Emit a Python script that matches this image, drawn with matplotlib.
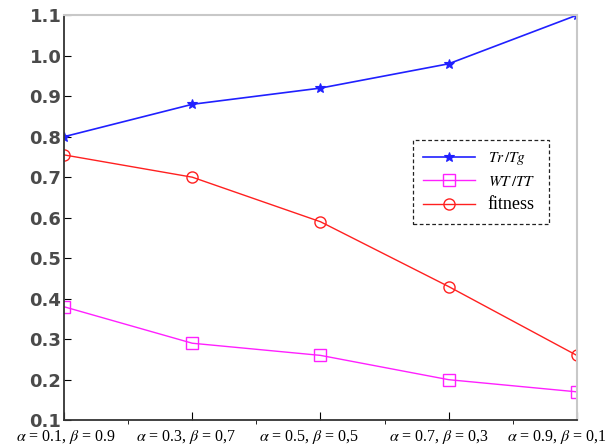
import matplotlib
matplotlib.use("Agg")
import matplotlib.pyplot as plt
from matplotlib.ticker import MultipleLocator
from matplotlib.transforms import ScaledTranslation

plt.rcParams['mathtext.fontset'] = 'stix'

x = [1, 2, 3, 4, 5]
xlabels = [r'$\alpha$ = 0.1, $\beta$ = 0.9', r'$\alpha$ = 0.3, $\beta$ = 0,7',
           r'$\alpha$ = 0.5, $\beta$ = 0,5', r'$\alpha$ = 0.7, $\beta$ = 0,3',
           r'$\alpha$ = 0.9, $\beta$ = 0,1']
tr_tg = [0.80, 0.88, 0.92, 0.98, 1.10]
wt_tt = [0.38, 0.29, 0.26, 0.20, 0.17]
fitness = [0.755, 0.70, 0.59, 0.43, 0.26]

fig = plt.figure(figsize=(6.11, 4.47), dpi=100)
ax = fig.add_axes([0.105, 0.060, 0.839, 0.906])

ax.plot(x, tr_tg, color='#2020ff', lw=1.2, marker='*', ms=7, mew=0.8,
        label=r'$\mathit{Tr\,/Tg}$')
ax.plot(x, wt_tt, color='#ff20ff', lw=1.0, marker='s', ms=8, mfc='none', mew=1.0,
        label=r'$\mathit{WT\,/TT}$')
ax.plot(x, fitness, color='#ff2020', lw=1.0, marker='o', ms=8, mfc='none', mew=1.0,
        label='fitness')

ax.set_xlim(1, 5)
ax.set_ylim(0.1, 1.1)
ax.set_xticks(x)
ax.set_xticklabels([])
ax.xaxis.set_minor_locator(MultipleLocator(0.5))

# category labels drawn by hand so they can sit a little left of their ticks
shifts = [2, -6, -11, -9, -20]
for xi, lab, dx in zip(x, xlabels, shifts):
    tr = ax.get_xaxis_transform() + ScaledTranslation(dx / 100, 0, fig.dpi_scale_trans)
    ax.text(xi, -0.042, lab, transform=tr, ha='center', va='center',
            fontsize=11.5, family='Liberation Serif', clip_on=False)

ax.yaxis.set_major_locator(MultipleLocator(0.1))
ax.set_yticklabels([f'{v:.1f}' for v in ax.get_yticks()])
for t in ax.get_yticklabels():
    t.set_fontweight('bold')
    t.set_fontsize(13)
    t.set_color('#4a4a4a')
ax.tick_params(axis='both', direction='in', top=False, right=False)
ax.tick_params(axis='x', which='major', length=6)
ax.tick_params(axis='x', which='minor', length=3)
ax.tick_params(axis='y', length=5, pad=2)

for s in ['left', 'bottom']:
    ax.spines[s].set_color('#333333')
    ax.spines[s].set_linewidth(1.3)
for s in ['top', 'right']:
    ax.spines[s].set_color('#c8c8c8')
    ax.spines[s].set_linewidth(1.5)

leg = ax.legend(loc='lower left', bbox_to_anchor=(0.68, 0.484, 0.265, 0.206),
                mode='expand', borderaxespad=0, fancybox=False, framealpha=1,
                edgecolor='#222222', prop={'family': 'serif', 'size': 11},
                handlelength=3.4, borderpad=0.7, labelspacing=0.5)
leg.get_frame().set_linestyle((0, (3, 2)))
leg.get_frame().set_linewidth(0.9)
for t in leg.get_texts():
    t.set_fontfamily('Liberation Serif')
leg.get_texts()[2].set_fontsize(13)

fig.savefig('out.png', dpi=100)
